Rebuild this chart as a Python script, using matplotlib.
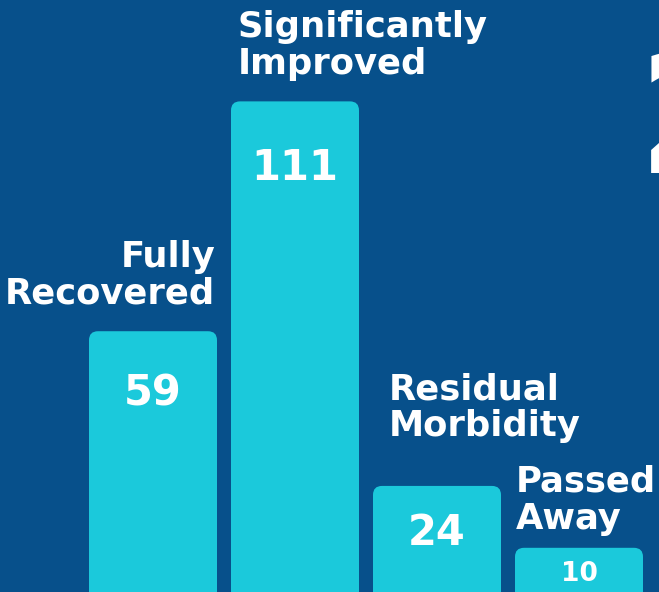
import matplotlib

matplotlib.use("Agg")
import matplotlib.pyplot as plt
from matplotlib.patches import FancyBboxPatch

CATEGORIES = ["Fully\nRecovered", "Significantly\nImproved", "Residual\nMorbidity", "Passed\nAway"]
COUNTS = [59, 111, 24, 10]
BIG_MARK = "2"

BG, BAR, WHITE = "#07508b", "#1bc9db", "#ffffff"
W, H = 659, 592
PX_PER_BAR = 142          # horizontal pitch of bars in pixels
PX_PER_UNIT = 4.42        # vertical pixels per count
FONT = "DejaVu Sans"

# label placement in pixels: (x, top y, align)
LABEL_POS = [(215, 240, "right"), (238, 10, "left"), (389, 372, "left"), (516, 465, "left")]
# distance of the value centre below the bar top, pixels
VALUE_DROP = [58, 62, 43, 23]


def main():
    fig = plt.figure(figsize=(W / 100, H / 100), dpi=100)
    fig.patch.set_facecolor(BG)
    ax = fig.add_axes([0, 0, 1, 1])
    ax.set_facecolor(BG)
    x0 = 153 / PX_PER_BAR
    ax.set_xlim(-x0, W / PX_PER_BAR - x0)
    ax.set_ylim(0, H / PX_PER_UNIT)
    ax.axis("off")

    width = 128 / PX_PER_BAR
    aspect = PX_PER_BAR / PX_PER_UNIT
    r = 9 / PX_PER_BAR
    for i, (v, drop) in enumerate(zip(COUNTS, VALUE_DROP)):
        ax.add_patch(FancyBboxPatch((i - width / 2, -10), width, v + 10,
                                    boxstyle=f"round,pad=0,rounding_size={r}",
                                    mutation_aspect=aspect, fc=BAR, ec="none"))
        small = v < 15
        ax.text(i, v - drop / PX_PER_UNIT, str(v), ha="center", va="center_baseline",
                color=WHITE, fontsize=19 if small else 30, fontweight="bold", family=FONT)

    for lab, (px, py, ha) in zip(CATEGORIES, LABEL_POS):
        fig.text(px / W, 1 - py / H, lab, ha=ha, va="top", color=WHITE,
                 fontsize=25.5, fontweight="bold", family=FONT, linespacing=1.1)

    # large numeral cut off at the right edge
    fig.text(638 / W, 1 - 45 / H, BIG_MARK, ha="left", va="top", color=WHITE,
             fontsize=120, fontweight="bold", family=FONT)

    fig.savefig("out.png", dpi=100, facecolor=BG)
    plt.close(fig)


if __name__ == "__main__":
    main()
